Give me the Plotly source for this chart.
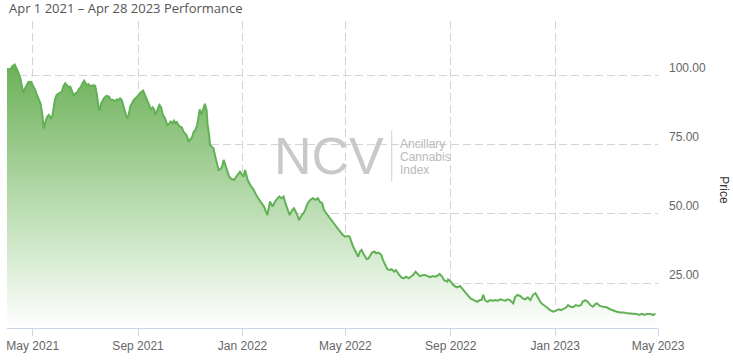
import plotly.graph_objects as go
import pandas as pd

start_date = "2021-04-01"

day_offsets = [
    0, 4, 6, 9, 11, 14, 16, 19, 20, 23, 25, 28, 30, 33, 35, 37, 39, 41, 43, 45,
    47, 49, 51, 53, 55, 56, 58, 62, 64, 66, 68, 70, 72, 74, 76, 78, 80, 82, 84, 86,
    88, 90, 92, 93, 95, 97, 99, 101, 103, 105, 107, 108, 110, 113, 116, 119, 121, 124, 126, 128,
    130, 132, 134, 136, 138, 140, 142, 144, 146, 148, 152, 156, 159, 161, 163, 166, 168, 170, 172, 173,
    175, 177, 178, 180, 181, 182, 185, 187, 189, 191, 193, 195, 197, 198, 200, 202, 204, 206, 208, 210,
    212, 214, 216, 218, 220, 222, 224, 225, 227, 228, 230, 231, 233, 234, 236, 237, 239, 241, 243, 245,
    247, 249, 251, 253, 255, 257, 259,
    261, 265, 269, 272, 276, 278, 281, 284, 288, 292, 296, 300, 304, 305, 307, 310, 313, 316, 318, 321,
    323, 325, 328, 330, 333, 335, 339, 341, 344, 346, 348, 351, 354, 357, 360, 363, 365, 368, 370, 374,
    377, 379, 383, 386, 389, 392, 395, 398, 400, 402, 404, 407, 409, 410, 412, 414, 416, 418, 420, 422,
    424, 426, 429, 431, 434, 437, 439, 442, 444, 447, 449, 452, 454, 457, 460, 463, 466, 469, 472, 474,
    477, 479, 482, 486, 488, 491, 494, 497, 500, 503, 505, 508,
    510, 514, 515, 518, 521, 525, 529, 531, 534, 537, 541, 545, 549, 552, 554, 556, 558, 561, 564, 567,
    570, 573, 576, 579, 582, 584, 587, 589, 591, 593, 596, 599, 602, 605, 608, 611, 614, 617, 619, 622,
    624, 627, 630, 634, 638, 641, 644, 647, 650, 653, 655, 658, 661, 664, 667, 670, 672, 675, 678, 681,
    684, 687, 689, 692, 696, 700, 704, 708, 712, 716, 720, 724, 727, 731, 735, 738, 741, 744, 747, 751,
    754, 757,
]

prices = [
    102.5, 102.4, 103.4, 104.1, 102.8, 100.7, 98.6, 93.7, 94.9, 96.4, 97.8, 97.9, 96.7, 94.9, 93.1, 91.5, 90.1, 86.5, 81.0, 83.5,
    85.3, 85.9, 84.7, 85.5, 88.9, 91.5, 93.1, 94.0, 94.3, 96.4, 97.3, 96.7, 95.9, 96.1, 94.3, 92.8, 93.7, 94.0, 95.2, 95.9,
    97.3, 98.3, 97.3, 96.7, 97.1, 96.4, 96.4, 96.7, 96.4, 93.1, 88.3, 87.4, 90.1, 91.9, 92.8, 92.5, 91.5, 91.3, 90.7, 91.5,
    91.3, 91.9, 91.3, 89.1, 86.5, 84.7, 85.9, 89.1, 90.1, 91.3, 92.5, 94.0, 94.7, 93.1, 91.3, 89.5, 87.9, 88.6, 87.7, 85.9,
    87.1, 88.9, 89.5, 88.6, 87.1, 85.9, 84.3, 82.2, 82.6, 83.5, 82.9, 83.8, 82.6, 83.5, 82.2, 81.6, 81.4, 79.8, 79.2, 78.3,
    76.2, 77.1, 77.8, 79.8, 80.4, 82.2, 85.9, 87.9, 85.9, 87.1, 89.5, 89.9, 87.7, 82.9, 78.6, 75.0, 74.4, 73.8, 71.0, 67.8,
    65.9, 66.2, 67.1, 69.6, 67.8, 65.3, 63.8,
    62.9, 62.3, 64.1, 65.3, 63.5, 65.9, 62.3, 60.5, 58.7, 56.3, 54.5, 52.7, 49.6, 51.4, 54.5, 52.7, 54.5, 55.7, 56.3, 55.7,
    56.3, 53.9, 51.4, 49.6, 51.4, 52.1, 49.6, 47.8, 49.6, 50.2, 51.4, 53.9, 55.1, 55.7, 55.1, 55.7, 54.5, 53.9, 51.4, 49.6,
    48.4, 47.8, 46.0, 44.8, 43.6, 42.4, 41.8, 42.0, 41.8, 40.0, 38.2, 36.4, 35.1, 34.5, 36.4, 37.0, 35.7, 34.5, 33.6, 33.9,
    35.1, 36.0, 36.4, 35.7, 36.0, 35.1, 33.3, 30.9, 30.0, 29.7, 30.0, 29.1, 29.7, 28.3, 27.1, 26.7, 27.3, 26.7, 27.3, 27.9,
    29.1, 28.3, 27.5, 27.9, 27.9, 27.5, 27.1, 27.5, 27.3, 27.7, 28.3, 27.3,
    26.1, 25.5, 26.3, 25.5, 24.3, 23.4, 23.9, 23.1, 21.9, 20.7, 19.4, 18.8, 18.2, 18.8, 18.8, 20.7, 18.8, 18.2, 18.8, 18.6,
    18.8, 18.6, 19.1, 18.8, 18.6, 19.1, 18.8, 18.2, 17.6, 19.8, 20.7, 20.3, 19.4, 19.1, 19.8, 18.8, 20.7, 21.3, 20.0, 18.6,
    17.6, 17.0, 16.2, 15.2, 14.6, 15.0, 15.5, 15.2, 15.8, 16.2, 17.0, 16.4, 16.2, 17.0, 16.7, 17.0, 18.2, 18.8, 18.2, 17.0,
    16.4, 17.4, 17.6, 16.7, 16.4, 16.2, 15.5, 15.0, 14.6, 14.3, 14.3, 14.0, 14.0, 13.8, 13.8, 13.4, 13.8, 13.4, 13.8, 13.8,
    13.4, 13.9,
]

x_tick_dates = ["2021-05-01", "2021-09-01", "2022-01-01", "2022-05-01",
                "2022-09-01", "2023-01-01", "2023-05-01"]
x_tick_labels = ["May 2021", "Sep 2021", "Jan 2022", "May 2022",
                 "Sep 2022", "Jan 2023", "May 2023"]
y_tick_values = [25, 50, 75, 100]
y_tick_labels = ["25.00", "50.00", "75.00", "100.00"]

title_text = "Apr 1 2021 \u2013 Apr 28 2023 Performance"
axis_title = "Price"

dates = pd.Timestamp(start_date) + pd.to_timedelta(day_offsets, unit="D")

LINE = "#63b157"
GRID = "#d4d4d4"
TICKFONT = dict(family="Liberation Sans, Arial, sans-serif", size=12, color="#666666")
WM_SMALL = dict(family="Liberation Sans, Arial, sans-serif", size=12, color="#b9b9b9")

fig = go.Figure()
fig.add_trace(go.Scatter(
    x=dates, y=prices, mode="lines",
    line=dict(color=LINE, width=2),
    fill="tozeroy",
    fillgradient=dict(
        type="vertical",
        colorscale=[[0, "rgba(255,255,255,1)"], [0.35, "rgba(202,229,195,1)"], [1, "rgba(108,177,88,1)"]],
        start=8.7, stop=104,
    ),
    hoverinfo="skip",
))

fig.update_layout(
    width=733, height=364,
    margin=dict(l=7, r=75, t=21, b=36),
    paper_bgcolor="white", plot_bgcolor="white",
    showlegend=False,
    xaxis=dict(
        type="date",
        range=["2021-04-01", "2023-05-01"],
        tickvals=x_tick_dates, ticktext=x_tick_labels,
        showgrid=True, gridcolor=GRID, griddash="8px,4px", gridwidth=1,
        showline=True, linecolor="#ccd6eb", linewidth=1,
        ticks="outside", ticklen=7, tickcolor="#ccd6eb",
        tickfont=TICKFONT, zeroline=False,
    ),
    yaxis=dict(
        side="right",
        range=[8.7, 119.9],
        tickvals=y_tick_values, ticktext=y_tick_labels,
        showgrid=True, gridcolor=GRID, griddash="8px,4px", gridwidth=1,
        showline=False, ticks="", zeroline=False,
        ticklabelposition="outside top",
        ticklabelstandoff=10,
        tickfont=TICKFONT,
    ),
)

annotations = [
    dict(text=title_text, xref="paper", yref="paper", x=0, y=1.0423,
         xanchor="left", yanchor="middle", showarrow=False,
         font=dict(family="Open Sans, sans-serif", size=13, color="#555555")),
    dict(text=axis_title, xref="paper", yref="paper", x=1.101, y=0.4495,
         xanchor="center", yanchor="middle", showarrow=False, textangle=90,
         font=dict(family="Liberation Sans, Arial, sans-serif", size=12, color="#333333")),
    dict(text="NCV", xref="paper", yref="paper", x=0.4946, y=0.560,
         xanchor="center", yanchor="middle", showarrow=False,
         font=dict(family="Liberation Sans, Arial, sans-serif", size=52, color="#c9c9c9")),
    dict(text="Ancillary", xref="paper", yref="paper", x=0.601, y=0.598,
         xanchor="left", yanchor="middle", showarrow=False, font=WM_SMALL),
    dict(text="Cannabis", xref="paper", yref="paper", x=0.601, y=0.556,
         xanchor="left", yanchor="middle", showarrow=False, font=WM_SMALL),
    dict(text="Index", xref="paper", yref="paper", x=0.601, y=0.5147,
         xanchor="left", yanchor="middle", showarrow=False, font=WM_SMALL),
]
fig.update_layout(annotations=annotations)
fig.add_shape(type="line", xref="paper", yref="paper", x0=0.591, x1=0.591, y0=0.4765, y1=0.645,
              line=dict(color="#d0d0d0", width=1), layer="below")

fig.write_html(
    "out.html",
    config={"displayModeBar": False, "staticPlot": True},
    post_script="document.body.style.margin='0';document.body.style.padding='0';document.body.style.overflow='hidden';",
)
